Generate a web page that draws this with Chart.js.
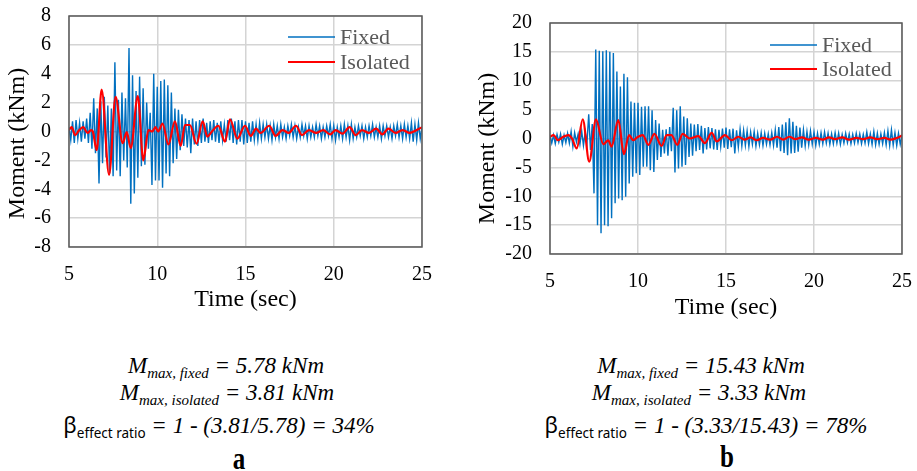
<!DOCTYPE html>
<html>
<head>
<meta charset="utf-8">
<script src="https://cdn.jsdelivr.net/npm/chart.js@4/dist/chart.umd.min.js"></script>
<style>
  html, body { margin: 0; padding: 0; background: #fff; }
  #page { position: relative; width: 917px; height: 471px; overflow: hidden; background: #fff; }
  canvas { position: absolute; top: 0; }
  #chartA { left: 0; }
  #chartB { left: 458px; }
  .eq {
    position: absolute; width: 440px; margin-left: -220px; text-align: center;
    white-space: nowrap; font: italic 23px "Liberation Serif", serif; line-height: 26px; color: #000;
  }
  .eq .sub { font-size: 15px; position: relative; top: 5px; }
  .eq .beta { font: normal 22px "Noto Sans", sans-serif; }
  .eq .subsans { font: normal 13.5px "Noto Sans", sans-serif; position: relative; top: 5px; }
  .tag {
    position: absolute; width: 40px; margin-left: -20px; text-align: center;
    font: bold 25px "Liberation Serif", serif; line-height: 26px; transform: scaleY(1.25);
  }
</style>
</head>
<body>
<div id="page">
  <canvas id="chartA" width="458" height="330"></canvas>
  <canvas id="chartB" width="459" height="330"></canvas>

  <div class="eq" style="left:226px; top:353px"><span>M</span><span class="sub">max, fixed</span> = 5.78 kNm</div>
  <div class="eq" style="left:227px; top:380px"><span>M</span><span class="sub">max, isolated</span> = 3.81 kNm</div>
  <div class="eq" style="left:219px; top:409px"><span class="beta">β</span><span class="subsans">effect ratio</span> = 1 - (3.81/5.78) = 34%</div>
  <div class="tag" style="left:239px; top:446px">a</div>

  <div class="eq" style="left:701px; top:353px"><span>M</span><span class="sub">max, fixed</span> = 15.43 kNm</div>
  <div class="eq" style="left:699px; top:380px"><span>M</span><span class="sub">max, isolated</span> = 3.33 kNm</div>
  <div class="eq" style="left:706px; top:409px"><span class="beta">β</span><span class="subsans">effect ratio</span> = 1 - (3.33/15.43) = 78%</div>
  <div class="tag" style="left:727px; top:444px">b</div>
</div>

<script>
// sampled records start at 5 s, one value every 0.1 s
const timeStart = 5;
const timeStep = 0.1;

// (a) fixed base moment, kNm
const fixedA = [
  0.3, -0.6, 0.7, -0.8, 0.8, -0.5, 0.6, -0.7, 0.7, -0.5,     // 5 s
  0.9, -0.8, 1.3, -1.2, 2.3, -1.5, 1.6, -3.6, 2.1, -2.2,     // 6 s
  2.4, -1.8, 1.8, -2.9, 1.6, -3.1, 4.8, -2.7, 2.2, -3.1,     // 7 s
  2.7, -2.0, 2.3, -2.5, 5.78, -5.0, 3.9, -4.3, 2.8, -3.2,    // 8 s
  3.8, -2.4, 3.0, -2.3, 2.0, -1.2, 1.3, -3.7, 4.0, -3.4,     // 9 s
  3.1, -3.4, 3.5, -3.9, 3.6, -2.9, 3.2, -3.1, 2.7, -2.2,     // 10 s
  1.6, -1.9, 1.5, -1.3, 1.2, -1.0, 0.9, -1.1, 0.8, -1.5,     // 11 s
  0.9, -0.9, 0.7, -1.0, 0.8, -0.8, 0.9, -0.7, 0.6, -0.8,     // 12 s
  0.7, -0.6, 0.8, -0.7, 0.6, -0.8, 0.7, -0.6, 0.5, -0.7,     // 13 s
  0.8, -0.6, 0.9, -0.8, 0.7, -0.9, 0.8, -0.7, 0.8, -0.9,     // 14 s
  0.7, -0.8, 0.6, -0.7, 0.7, -0.6, 0.5, -0.6, 0.6, -0.5,     // 15 s
  0.5, -0.4, 0.5, -0.5, 0.4, -0.6, 0.5, -0.4, 0.4, -0.5,     // 16 s
  0.5, -0.4, 0.3, -0.5, 0.4, -0.3, 0.5, -0.4, 0.4, -0.5,     // 17 s
  0.3, -0.4, 0.5, -0.3, 0.4, -0.5, 0.4, -0.4, 0.3, -0.4,     // 18 s
  0.5, -0.3, 0.4, -0.5, 0.3, -0.4, 0.4, -0.3, 0.5, -0.5,     // 19 s
  0.4, -0.6, 0.3, -0.4, 0.4, -0.5, 0.5, -0.4, 0.4, -0.6,     // 20 s
  0.5, -0.5, 0.3, -0.4, 0.4, -0.3, 0.4, -0.5, 0.3, -0.4,     // 21 s
  0.4, -0.3, 0.5, -0.4, 0.3, -0.4, 0.4, -0.5, 0.4, -0.3,     // 22 s
  0.4, -0.4, 0.3, -0.5, 0.4, -0.3, 0.5, -0.4, 0.4, -0.5,     // 23 s
  0.5, -0.4, 0.4, -0.5, 0.6, -0.7, 0.5, -0.6, 0.6, -0.5,     // 24 s
  0.3                                                        // 25 s
];

// (a) isolated base moment, turning points
const isolatedTimeA = [
  5.0, 5.15, 5.35, 5.55, 5.8, 6.05, 6.25, 6.35, 6.57, 6.85, 7.27, 7.64, 8.04, 8.27, 8.5,
  8.9, 9.21, 9.5, 9.72, 9.9, 10.05, 10.3, 10.63, 11.0, 11.33, 11.57, 11.85, 12.23, 12.57,
  12.84, 13.1, 13.46, 13.84, 14.12, 14.54, 14.97, 15.3, 15.6, 15.85, 16.35, 16.7, 17.1,
  17.45, 17.86, 18.2, 18.6, 19.0, 19.4, 19.8, 20.1, 20.5, 20.9, 21.25, 21.6, 22.0, 22.4,
  22.75, 23.1, 23.5, 23.9, 24.3, 24.7, 25.0
];
const isolatedA = [
  0.1, 0.3, -0.25, 0.05, 0.3, -0.1, 0.1, 0.0, -1.3, 2.9, -3.0, 2.4, -0.8, -0.05, -1.15,
  2.45, -2.0, 0.1, 0.0, 0.3, 0.0, 0.55, -0.9, 0.7, -1.0, 0.45, 0.45, -0.85, 0.7,
  -0.35, 0.0, 0.4, -0.7, 0.85, -0.5, 0.4, -0.3, 0.2, -0.1, 0.4, -0.3, 0.1,
  -0.1, 0.4, -0.25, 0.1, -0.1, 0.1, -0.2, 0.1, -0.15, 0.3, -0.25, 0.1, -0.1, 0.2,
  -0.2, 0.2, -0.1, 0.1, -0.1, 0.1, 0.3
];

// (b) fixed base moment, kNm
const fixedB = [
  0.5, -0.8, 0.6, -0.9, 0.7, -0.6, 0.8, -1.0, 0.6, -0.7,          // 5 s
  0.9, -0.8, 1.2, -1.4, 1.0, -0.6, 0.8, -1.0, 1.3, -1.2,          // 6 s
  1.1, -0.8, 4.2, -2.0, 2.5, -9.5, 15.43, -15.0, 15.2, -16.4,     // 7 s
  15.1, -15.0, 15.3, -15.2, 15.0, -13.8, 14.8, -11.2, 11.6, -10.4, // 8 s
  9.0, -10.7, 11.2, -10.1, 10.6, -7.8, 6.4, -6.6, 6.2, -6.0,      // 9 s
  6.2, -6.3, 5.5, -4.9, 5.6, -4.9, 5.6, -5.5, 4.9, -5.8,          // 10 s
  3.2, -3.7, 2.6, -3.2, 1.5, -2.6, 1.6, -3.0, 2.0, -2.2,          // 11 s
  5.3, -5.9, 4.9, -5.2, 5.6, -4.9, 3.8, -4.6, 3.5, -3.2,          // 12 s
  2.6, -3.0, 2.4, -2.2, 2.5, -2.0, 2.2, -2.6, 1.8, -1.9,          // 13 s
  2.0, -1.7, 1.8, -1.9, 1.6, -2.0, 1.5, -1.4, 1.7, -1.6,          // 14 s
  1.9, -1.8, 1.6, -1.5, 1.7, -2.6, 1.4, -1.5, 1.6, -1.3,          // 15 s
  1.4, -1.2, 1.3, -1.4, 1.1, -1.0, 1.2, -1.3, 0.9, -1.1,          // 16 s
  1.0, -1.2, 0.9, -1.0, 0.8, -1.1, 1.0, -1.2, 1.5, -1.6,          // 17 s
  2.0, -2.2, 2.4, -2.5, 2.8, -2.9, 3.5, -2.6, 2.9, -2.5,          // 18 s
  2.2, -2.3, 1.9, -1.6, 1.5, -1.3, 1.2, -1.1, 1.3, -1.0,          // 19 s
  1.1, -1.2, 0.9, -1.0, 1.0, -0.9, 1.1, -0.8, 0.9, -1.0,          // 20 s
  0.8, -0.9, 1.0, -0.8, 0.9, -1.0, 0.7, -0.8, 0.9, -0.7,          // 21 s
  0.8, -0.9, 0.7, -0.8, 0.9, -0.7, 0.8, -0.9, 0.7, -0.8,          // 22 s
  1.1, -0.9, 0.8, -1.0, 1.2, -1.1, 0.9, -1.0, 0.8, -0.9,          // 23 s
  1.0, -1.1, 1.3, -1.2, 1.5, -1.1, 1.0, -1.2, 0.9, -1.0,          // 24 s
  0.6                                                             // 25 s
];

// (b) isolated base moment, turning points
const isolatedTimeB = [
  5.0, 5.2, 5.45, 5.75, 6.05, 6.25, 6.52, 6.86, 7.23, 7.61, 8.03, 8.31, 8.5, 8.88, 9.2,
  9.49, 9.73, 9.95, 10.27, 10.59, 10.93, 11.34, 11.63, 11.9, 12.23, 12.54, 12.95, 13.43,
  13.8, 14.19, 14.47, 14.94, 15.32, 15.7, 16.05, 16.4, 16.75, 17.1, 17.5, 17.9, 18.25,
  18.6, 18.95, 19.3, 19.7, 20.1, 20.5, 20.85, 21.2, 21.6, 22.0, 22.4, 22.8, 23.2, 23.6,
  24.0, 24.35, 24.7, 25.0
];
const isolatedB = [
  0.3, 0.6, -0.3, 0.3, 0.6, 0.0, -1.7, 3.33, -4.0, 3.3, -1.0, -0.3, -1.4, 3.2, -2.7,
  0.6, -0.3, 0.2, 0.6, -1.1, 0.8, -1.3, 0.6, 0.6, -1.1, 0.8, 0.0, 0.4,
  -0.8, 1.0, -0.5, 0.6, -0.3, 0.3, -0.2, 0.2, -0.3, 0.1, -0.2, 0.3, -0.2,
  0.3, -0.1, 0.2, -0.2, 0.1, -0.2, 0.2, -0.1, 0.2, -0.2, 0.1, -0.1, 0.2, -0.1,
  0.1, -0.2, 0.1, 0.5
];

const fixedColor = '#0070C0';
const isolatedColor = '#FF0000';
const serif = '"Liberation Serif", "Times New Roman", serif';
const yTitle = 'Moment (kNm)';

const sampled = values => values.map((v, i) => ({ x: +(timeStart + i * timeStep).toFixed(1), y: v }));
const paired = (times, values) => times.map((t, i) => ({ x: t, y: values[i] }));

// plot frame, y title and the in-plot key at the top right
const frameAndKey = {
  id: 'frameAndKey',
  afterDatasetsDraw(chart, args, opts) {
    const { ctx, chartArea: a } = chart;
    ctx.save();
    ctx.strokeStyle = '#595959';
    ctx.lineWidth = 1.5;
    ctx.strokeRect(a.left, a.top, a.right - a.left, a.bottom - a.top);

    // y title sits a little below the middle of the plot
    ctx.save();
    ctx.translate(opts.titleX, (a.top + a.bottom) / 2 + opts.titleDy);
    ctx.rotate(-Math.PI / 2);
    ctx.font = '24px ' + serif;
    ctx.fillStyle = '#000';
    ctx.textAlign = 'center';
    ctx.textBaseline = 'middle';
    ctx.fillText(yTitle, 0, 0);
    ctx.restore();

    ctx.font = '22px ' + serif;
    ctx.textBaseline = 'middle';
    ctx.textAlign = 'left';
    chart.data.datasets.forEach((ds, i) => {
      const x = a.right - opts.right;
      const y = a.top + opts.top + i * opts.gap;
      ctx.strokeStyle = ds.borderColor;
      ctx.lineWidth = ds.borderWidth;
      ctx.beginPath();
      ctx.moveTo(x, y);
      ctx.lineTo(x + 47, y);
      ctx.stroke();
      ctx.fillStyle = '#595959';
      ctx.fillText(ds.label, x + 52, y + 1);
    });
    ctx.restore();
  }
};

// axes get a fixed size and no extra edge padding, so the plot box lands where the layout says
function fixSize(scale, size) {
  if (scale.isHorizontal()) scale.height = size;
  else scale.width = size;
  scale.paddingTop = 0;
  scale.paddingBottom = 0;
  scale.paddingLeft = 0;
  scale.paddingRight = 0;
}

function makeChart(id, fixed, isoTimes, iso, yLimit, yStep, box) {
  const ctx = document.getElementById(id).getContext('2d');
  return new Chart(ctx, {
    type: 'line',
    data: {
      datasets: [
        {
          label: 'Fixed',
          data: sampled(fixed),
          borderColor: fixedColor,
          borderWidth: 1.4,
          pointRadius: 0,
          tension: 0,
          order: 1
        },
        {
          label: 'Isolated',
          data: paired(isoTimes, iso),
          borderColor: isolatedColor,
          borderWidth: 2.2,
          pointRadius: 0,
          cubicInterpolationMode: 'monotone',
          order: 0
        }
      ]
    },
    options: {
      responsive: false,
      animation: false,
      events: [],
      layout: { padding: box.padding },
      plugins: {
        legend: { display: false },
        tooltip: { enabled: false },
        frameAndKey: box.key
      },
      scales: {
        x: {
          type: 'linear',
          min: 5,
          max: 25,
          afterFit: s => fixSize(s, box.xHeight),
          ticks: { stepSize: 5, padding: 16, color: '#000', font: { family: serif, size: 20 } },
          grid: { color: '#d4d4d4', lineWidth: 1.5, drawTicks: false },
          border: { display: false },
          title: { display: true, text: 'Time (sec)', color: '#000', padding: 0, font: { family: serif, size: 24 } }
        },
        y: {
          min: -yLimit,
          max: yLimit,
          afterFit: s => fixSize(s, box.yWidth),
          ticks: { stepSize: yStep, padding: 18, color: '#000', font: { family: serif, size: 20 } },
          grid: { color: '#d4d4d4', lineWidth: 1.5, drawTicks: false },
          border: { display: false }
        }
      }
    },
    plugins: [frameAndKey]
  });
}

makeChart('chartA', fixedA, isolatedTimeA, isolatedA, 8, 2, {
  padding: { left: 4, top: 16, right: 36, bottom: 16 },
  yWidth: 65,
  xHeight: 67,
  key: { right: 134, top: 21, gap: 25, titleX: 18, titleDy: 12 }
});

makeChart('chartB', fixedB, isolatedTimeB, isolatedB, 20, 5, {
  padding: { left: 16, top: 23, right: 15, bottom: 8 },
  yWidth: 76,
  xHeight: 68,
  key: { right: 132, top: 22, gap: 24, titleX: 30, titleDy: 10 }
});
</script>
</body>
</html>
